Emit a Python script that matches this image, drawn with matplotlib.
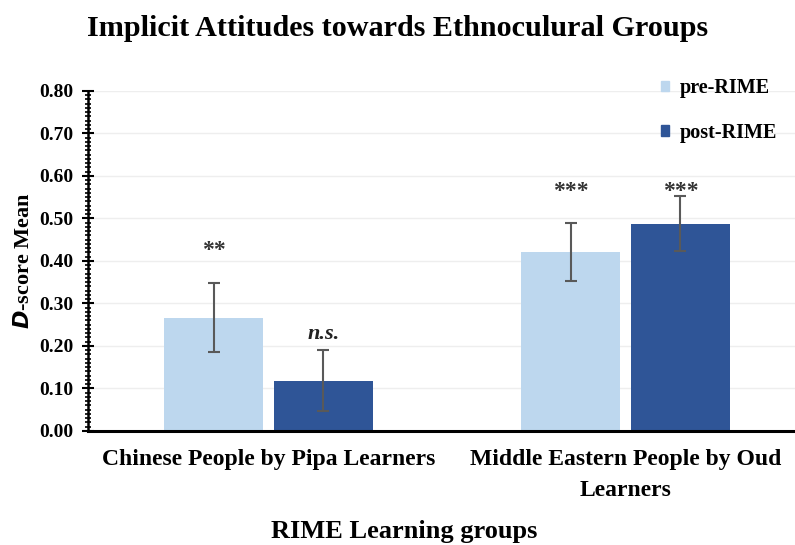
import matplotlib
matplotlib.use("Agg")
import matplotlib.pyplot as plt
import numpy as np
from matplotlib.ticker import MultipleLocator, FormatStrFormatter
from matplotlib.patches import Patch

groups = ["Chinese People by Pipa Learners", "Middle Eastern People by Oud\nLearners"]
series = ["pre-RIME", "post-RIME"]
pre_mean = [0.267, 0.421]
pre_err = [0.082, 0.068]
post_mean = [0.118, 0.488]
post_err = [0.072, 0.064]
pre_sig = ["**", "***"]
post_sig = ["n.s.", "***"]

plt.rcParams['font.family'] = ['Liberation Serif', 'DejaVu Serif']
plt.rcParams['font.weight'] = 'bold'

fig = plt.figure(figsize=(7.95, 5.45), dpi=100)
ax = fig.add_axes([0.1107, 0.2092, 0.8893, 0.6239])

c_pre = "#BDD7EE"
c_post = "#2F5597"
x = np.arange(len(groups))
w = 0.277
off = 0.154
ekw = dict(ecolor="#595959", elinewidth=1.5, capsize=4, capthick=1.5)
ax.bar(x - off, pre_mean, w, yerr=pre_err, color=c_pre, error_kw=ekw, zorder=2)
ax.bar(x + off, post_mean, w, yerr=post_err, color=c_post, error_kw=ekw, zorder=2)

# significance labels (gap above the error bar, in data units)
pre_gap = [0.05, 0.035]
post_gap = [0.014, 0.0]
for i in range(len(groups)):
    top_pre = pre_mean[i] + pre_err[i]
    top_post = post_mean[i] + post_err[i]
    ypre = top_pre + pre_gap[i]
    ypost = top_post + post_gap[i]
    if pre_sig[i] == "***":
        ypre = max(top_pre, top_post) - 0.013
        ypost = ypre
    ax.text(x[i] - off, ypre, pre_sig[i], ha='center', va='bottom',
            fontsize=17, color="#333333", fontweight='bold')
    if post_sig[i] == "n.s.":
        ax.text(x[i] + off, ypost, post_sig[i], ha='center', va='bottom',
                fontsize=16, fontstyle='italic', color="#222222", fontweight='bold')
    else:
        ax.text(x[i] + off, ypost, post_sig[i], ha='center', va='bottom',
                fontsize=17, color="#333333", fontweight='bold')

ax.set_xlim(-0.5056, 1.4748)
ax.set_ylim(0, 0.8)
ax.yaxis.set_major_locator(MultipleLocator(0.1))
ax.yaxis.set_minor_locator(MultipleLocator(0.01))
ax.yaxis.set_major_formatter(FormatStrFormatter('%.2f'))
ax.set_xticks(x)
ax.set_xticklabels(groups, fontsize=17, fontweight='bold')
for lab in ax.get_xticklabels():
    lab.set_linespacing(1.6)
ax.tick_params(axis='x', length=0, pad=13)
ax.tick_params(axis='y', which='major', direction='inout', length=9, width=1.5,
               labelsize=14, pad=6)
ax.tick_params(axis='y', which='minor', direction='inout', length=5, width=1.2)
for lab in ax.get_yticklabels():
    lab.set_fontweight('bold')

ax.grid(axis='y', which='major', color='#EEEEEE', linewidth=1, zorder=0)
ax.set_axisbelow(True)
for s in ['top', 'right']:
    ax.spines[s].set_visible(False)
ax.spines['left'].set_linewidth(1.8)
ax.spines['bottom'].set_linewidth(2.2)

ax.set_ylabel(r"$\bf\it{D}$-score Mean", fontsize=16, fontweight='bold')
ax.yaxis.set_label_coords(-0.077, 0.50)

handles = [Patch(color=c_pre), Patch(color=c_post)]
leg = ax.legend(handles, series, loc='upper right', bbox_to_anchor=(1.0, 1.09),
                frameon=False, handlelength=0.4, handleheight=0.4,
                handletextpad=0.5, labelspacing=1.2, prop={'weight': 'bold', 'size': 14.5})

fig.text(0.5, 0.948, "Implicit Attitudes towards Ethnoculural Groups",
         ha='center', va='center', fontsize=21.7, fontweight='bold')
fig.text(0.508, 0.024, "RIME Learning groups", ha='center', va='center',
         fontsize=19, fontweight='bold')

fig.savefig("out.png", dpi=100)
